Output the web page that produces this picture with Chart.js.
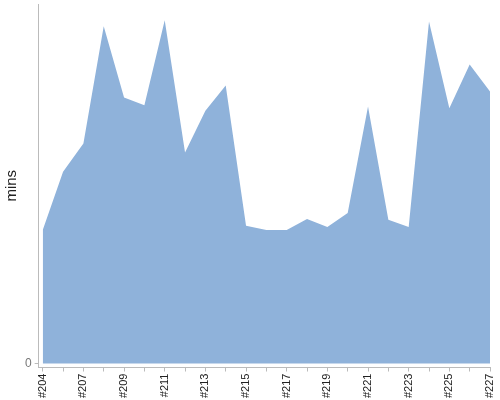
<!DOCTYPE html>
<html>
<head>
<meta charset="utf-8">
<script src="https://cdn.jsdelivr.net/npm/chart.js@4"></script>
<style>
  html, body { margin: 0; padding: 0; background: #fff; }
  #wrap { width: 500px; height: 400px; }
</style>
</head>
<body>
<div id="wrap"><canvas id="buildChart"></canvas></div>
<script>
// build numbers (note #205 is missing in the source)
const builds = ['#204', '#206', '#207', '#208', '#209', '#210', '#211', '#212', '#213', '#214', '#215', '#216',
  '#217', '#218', '#219', '#220', '#221', '#222', '#223', '#224', '#225', '#226', '#227'];
// build duration in minutes
const mins = [22.3, 32.0, 36.7, 56.3, 44.4, 43.1, 57.3, 35.2, 42.2, 46.4, 23.0, 22.3,
  22.3, 24.1, 22.8, 25.1, 42.9, 24.0, 22.8, 57.1, 42.6, 49.9, 45.4];

window.onload = function() {
  const ctx = document.getElementById('buildChart').getContext('2d');
  new Chart(ctx, {
    type: 'line',
    data: {
      datasets: [{
        data: mins.map((v, i) => ({ x: i, y: v })),
        borderColor: '#8fb2da',
        backgroundColor: '#8fb2da',
        borderWidth: 0,
        fill: 'origin',
        tension: 0,
        pointRadius: 0
      }]
    },
    options: {
      responsive: true,
      maintainAspectRatio: false,
      animation: false,
      layout: { padding: { top: 4, right: 10, left: 3, bottom: 0 } },
      plugins: { legend: { display: false }, tooltip: { enabled: false } },
      scales: {
        x: {
          type: 'linear',
          min: -0.2, max: builds.length - 1,
          afterFit: s => { s.paddingRight = 0; },
          border: { color: '#bbb' },
          grid: { drawOnChartArea: false, drawTicks: true, tickLength: 4, color: '#bbb' },
          ticks: {
            stepSize: 1, includeBounds: false, autoSkip: false,
            minRotation: 90, maxRotation: 90,
            color: '#222', font: { family: 'Liberation Sans', size: 11 }, padding: 2,
            callback: v => (v % 2 === 0 ? builds[v] : '')
          }
        },
        y: {
          min: -0.67, max: 60,
          afterFit: s => { s.paddingTop = 0; },
          border: { color: '#bbb' },
          grid: { drawOnChartArea: false, drawTicks: true, tickLength: 4, color: '#bbb' },
          title: {
            display: true, text: 'mins', color: '#222',
            font: { family: 'Liberation Sans', size: 15 }, padding: { top: 0, bottom: 1 }
          },
          ticks: {
            stepSize: 100, includeBounds: false,
            color: '#777', font: { family: 'Liberation Sans', size: 12 },
            callback: v => (v === 0 ? '0' : '')
          }
        }
      }
    }
  });
};
</script>
</body>
</html>
